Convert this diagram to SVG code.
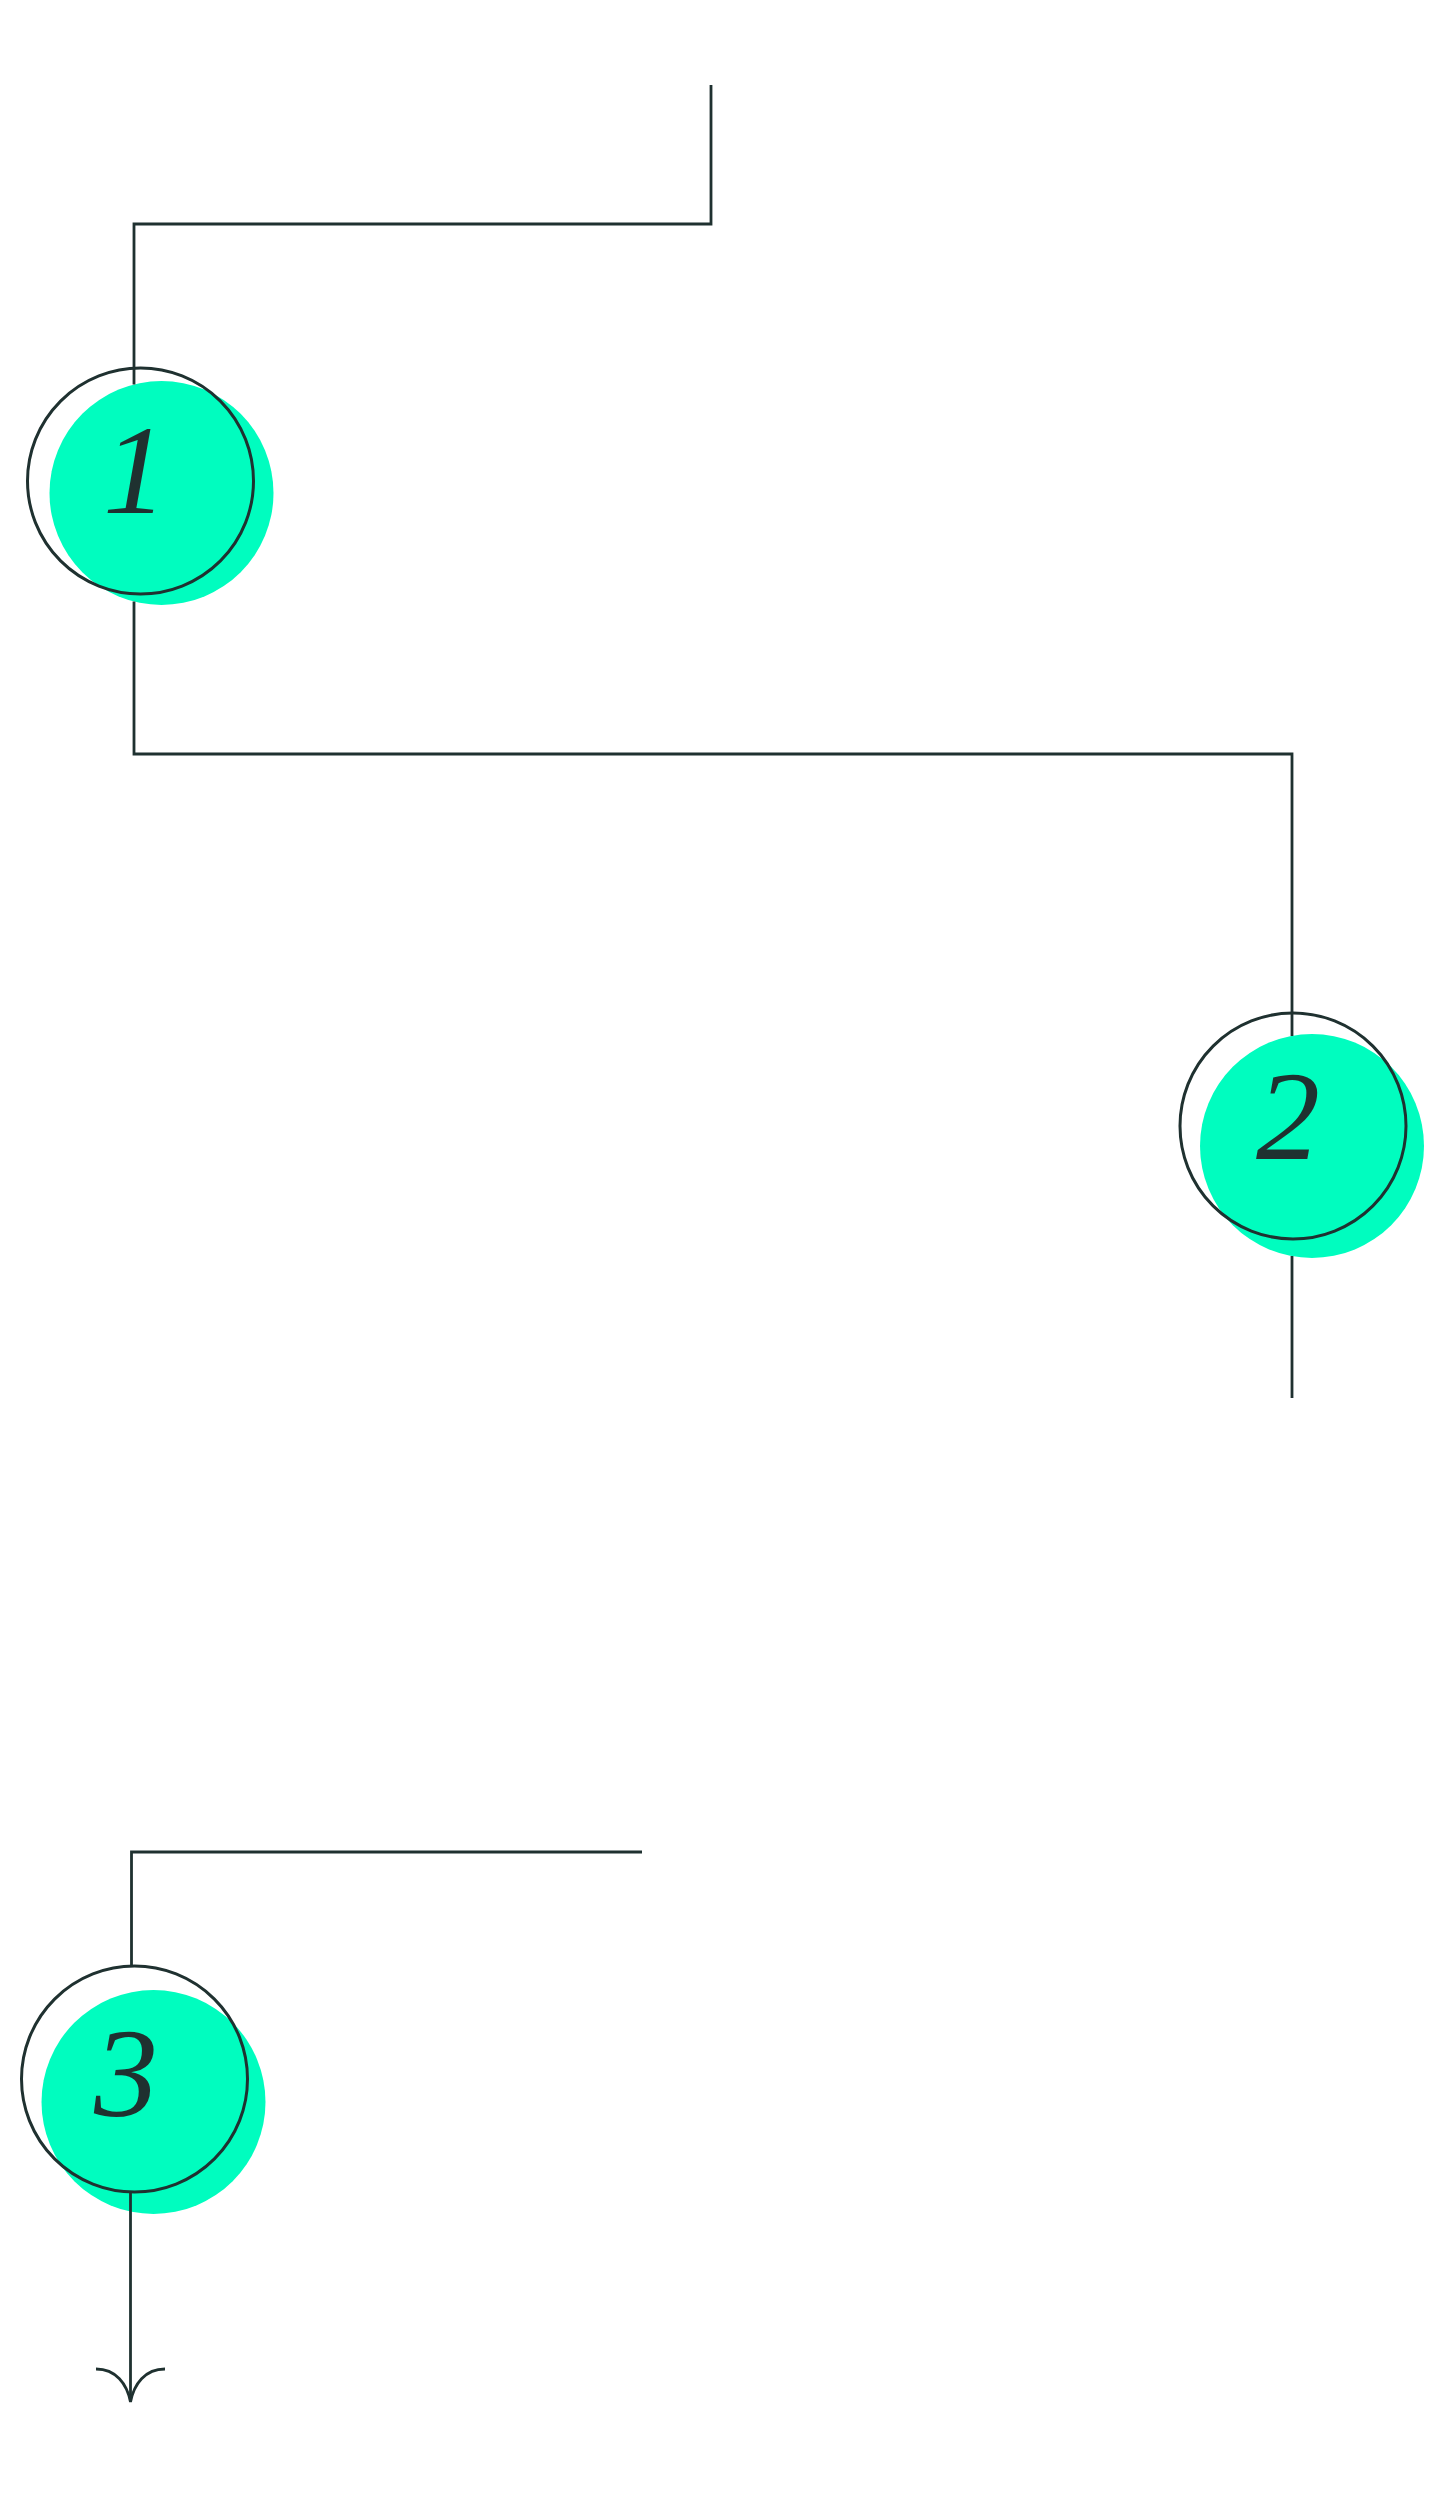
<svg xmlns="http://www.w3.org/2000/svg" width="1450" height="2500" viewBox="0 0 1450 2500">
  <style>
    .bg { fill: #ffffff; }
    .blob { fill: #00fdbf; }
    .ring { fill: none; stroke: #1f3130; stroke-width: 3; }
    .num { font-style: italic; font-size: 128px; fill: #1f3130; text-anchor: middle; }
    .wire { fill: none; stroke: #1f3130; stroke-width: 2.8; stroke-linecap: butt; stroke-linejoin: miter; }
  </style>
  <rect class="bg" x="0" y="0" width="1450" height="2500"/>

  <g id="node-1">
    <circle class="blob" cx="161.5" cy="493" r="112"/>
    <circle class="ring" cx="140.5" cy="481" r="113"/>
    <text class="num" font-family="Liberation Serif, serif" x="135" y="513">1</text>
  </g>

  <g id="node-2">
    <circle class="blob" cx="1312" cy="1146" r="112"/>
    <circle class="ring" cx="1293" cy="1126" r="113"/>
    <text class="num" font-family="Liberation Serif, serif" x="1288" y="1159">2</text>
  </g>

  <g id="node-3">
    <circle class="blob" cx="153.5" cy="2102" r="112"/>
    <circle class="ring" cx="134.5" cy="2079" r="113"/>
    <text class="num" font-family="Liberation Serif, serif" x="126" y="2116">3</text>
  </g>

  <g id="connectors">
    <path class="wire" d="M711 85 V224 H134 V384.5"/>
    <path class="wire" d="M134 601.5 V754 H1292 V1036"/>
    <path class="wire" d="M1292 1256 V1398"/>
    <path class="wire" d="M642 1852 H131.5 V1966"/>
    <path class="wire" d="M130.5 2192 V2402"/>
    <path class="wire" d="M96 2369 C116 2369 127 2384 130.5 2402 C134 2384 145 2369 165 2369"/>
  </g>
</svg>
